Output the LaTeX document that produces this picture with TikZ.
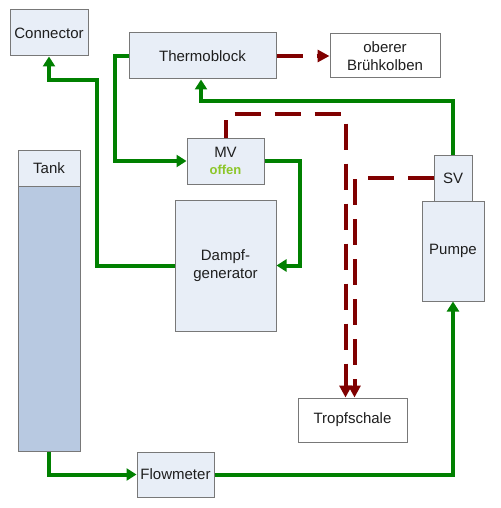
\documentclass[tikz,border=0pt]{standalone}
\usepackage{fontspec}
\setmainfont{Liberation Sans}
\usetikzlibrary{arrows.meta,calc}
\definecolor{boxfill}{RGB}{232,238,247}
\definecolor{tankfill}{RGB}{184,201,225}
\definecolor{boxline}{RGB}{120,120,120}
\definecolor{flowgreen}{RGB}{0,128,0}
\definecolor{steamred}{RGB}{128,0,0}
\definecolor{offengreen}{RGB}{140,198,40}
\definecolor{txt}{RGB}{30,30,30}
\tikzset{
  blk/.style={draw=boxline, line width=1pt, fill=boxfill, inner sep=0pt, align=center, text=txt, font=\fontsize{15}{18}\selectfont},
  wblk/.style={blk, fill=white},
  gline/.style={draw=flowgreen, line width=4pt, -{Triangle[length=10pt,width=12pt]}},
  rline/.style={draw=steamred, line width=4pt, dash pattern=on 26pt off 14pt, -{Triangle[length=12pt,width=12pt]}},
}
\begin{document}
\begin{tikzpicture}[x=1pt,y=-1pt]
\useasboundingbox[fill=white] (0,0) rectangle (500,508);
\node[blk, minimum width=78pt, minimum height=46pt] (conn) at (49,33) {Connector};
\node[blk, minimum width=147pt, minimum height=46pt] (tb) at (202.5,56) {Thermoblock};
\node[wblk, minimum width=110pt, minimum height=44pt] (bk) at (385,56) {oberer\\Brühkolben};
\node[blk, fill=tankfill, minimum width=62pt, minimum height=265pt] (tankbody) at (49,318.5) {};
\node[blk, minimum width=62pt, minimum height=36pt] (tank) at (49,168) {Tank};
\node[blk, minimum width=77pt, minimum height=46pt] (mv) at (225.5,161) {MV\\[-1pt]{\color{offengreen}\bfseries\fontsize{13}{15}\selectfont offen}};
\node[blk, minimum width=101pt, minimum height=131pt] (dg) at (225.5,265.5) {Dampf-\\generator};
\node[blk, minimum width=62pt, minimum height=100pt] (pumpe) at (453,251) {Pumpe};
\node[blk, minimum width=38pt, minimum height=46pt] (sv) at (453,178) {SV};
\node[wblk, minimum width=109pt, minimum height=44pt] (tr) at (352.5,420) {Tropfschale};
\node[blk, minimum width=77pt, minimum height=45pt] (flow) at (175.5,474.5) {Flowmeter};
% green water lines
\draw[gline] (tankbody.south) |- (flow.west);
\draw[gline] (flow.east) -| (pumpe.south);
\draw[gline] (sv.north) |- ($(tb.south)+(-1.5,22)$) -- ([xshift=-1.5pt]tb.south);
\draw[gline] (tb.west) -- ++(-14,0) |- (mv.west);
\draw[gline] (mv.east) -- ++(35,0) |- (dg.east);
\draw[gline] (dg.west) -- ++(-78,0) |- ($(conn.south)+(0,24)$) -- (conn.south);
% red steam lines
\draw[rline] (tb.east) -- (bk.west);
\draw[rline, dash phase=8pt] (mv.north) -- ++(0,-23) -| ([xshift=-7pt]tr.north);
\draw[rline] (sv.west) -| ([xshift=2pt]tr.north);
\end{tikzpicture}
\end{document}
